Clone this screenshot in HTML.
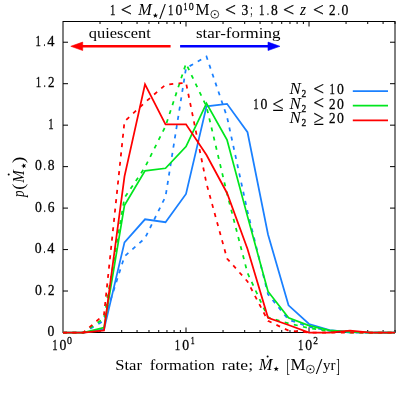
<!DOCTYPE html>
<html><head><meta charset="utf-8"><title>chart</title>
<style>html,body{margin:0;padding:0;background:#fff}svg{display:block}</style></head>
<body>
<svg width="415" height="415" viewBox="0 0 415 415">
<rect width="415" height="415" fill="#fff"/>
<g stroke="#000" stroke-width="1" fill="none">
<rect x="63.00" y="21.50" width="332.00" height="311.00"/>
<path d="M63.00 332.50h5M395.00 332.50h-5"/>
<path d="M63.00 291.03h5M395.00 291.03h-5"/>
<path d="M63.00 249.57h5M395.00 249.57h-5"/>
<path d="M63.00 208.10h5M395.00 208.10h-5"/>
<path d="M63.00 166.63h5M395.00 166.63h-5"/>
<path d="M63.00 125.17h5M395.00 125.17h-5"/>
<path d="M63.00 83.70h5M395.00 83.70h-5"/>
<path d="M63.00 42.23h5M395.00 42.23h-5"/>
<path d="M100.03 332.50v-2.5 M100.03 21.50v2.5"/>
<path d="M121.69 332.50v-2.5 M121.69 21.50v2.5"/>
<path d="M137.06 332.50v-2.5 M137.06 21.50v2.5"/>
<path d="M148.98 332.50v-2.5 M148.98 21.50v2.5"/>
<path d="M158.72 332.50v-2.5 M158.72 21.50v2.5"/>
<path d="M166.96 332.50v-2.5 M166.96 21.50v2.5"/>
<path d="M174.09 332.50v-2.5 M174.09 21.50v2.5"/>
<path d="M180.38 332.50v-2.5 M180.38 21.50v2.5"/>
<path d="M186.01 332.50v-5.0 M186.01 21.50v5.0"/>
<path d="M223.04 332.50v-2.5 M223.04 21.50v2.5"/>
<path d="M244.70 332.50v-2.5 M244.70 21.50v2.5"/>
<path d="M260.07 332.50v-2.5 M260.07 21.50v2.5"/>
<path d="M271.99 332.50v-2.5 M271.99 21.50v2.5"/>
<path d="M281.73 332.50v-2.5 M281.73 21.50v2.5"/>
<path d="M289.97 332.50v-2.5 M289.97 21.50v2.5"/>
<path d="M297.10 332.50v-2.5 M297.10 21.50v2.5"/>
<path d="M303.39 332.50v-2.5 M303.39 21.50v2.5"/>
<path d="M309.02 332.50v-5.0 M309.02 21.50v5.0"/>
<path d="M346.05 332.50v-2.5 M346.05 21.50v2.5"/>
<path d="M367.71 332.50v-2.5 M367.71 21.50v2.5"/>
<path d="M383.08 332.50v-2.5 M383.08 21.50v2.5"/>
<path d="M395.00 332.50v-2.5 M395.00 21.50v2.5"/>
</g>
<g>
<polyline points="63.00,332.50 83.50,332.50 104.00,329.39 124.50,242.31 145.01,219.30 165.51,222.20 186.01,194.00 206.51,106.30 227.01,103.81 247.51,132.22 268.02,234.43 288.52,305.34 309.02,324.00 329.52,330.01 350.02,332.09 370.52,332.50 391.03,332.50 395.00,332.50" fill="none" stroke="#1a80ff" stroke-width="1.75" stroke-linejoin="miter"/>
<polyline points="63.00,332.50 83.50,332.50 104.00,320.68 124.50,256.41 145.01,238.16 165.51,196.70 186.01,68.15 206.51,56.54 227.01,116.87 247.51,211.42 268.02,294.35 288.52,319.65 309.02,326.90 329.52,330.84 350.02,332.50 370.52,332.50 391.03,332.50 395.00,332.50" fill="none" stroke="#1a80ff" stroke-width="1.75" stroke-linejoin="miter" stroke-dasharray="4 5.4"/>
<polyline points="63.00,332.50 83.50,332.50 104.00,327.52 124.50,205.20 145.01,170.78 165.51,168.29 186.01,146.52 206.51,103.40 227.01,139.89 247.51,216.39 268.02,291.45 288.52,317.78 309.02,325.66 329.52,330.43 350.02,331.88 370.52,332.50 391.03,332.50 395.00,332.50" fill="none" stroke="#00e61e" stroke-width="1.75" stroke-linejoin="miter"/>
<polyline points="63.00,332.50 83.50,332.50 104.00,318.40 124.50,197.73 145.01,167.26 165.51,126.20 186.01,63.59 206.51,106.51 227.01,193.59 247.51,273.00 268.02,317.36 288.52,323.38 309.02,328.15 329.52,331.26 350.02,332.50 370.52,332.50 391.03,332.50 395.00,332.50" fill="none" stroke="#00e61e" stroke-width="1.75" stroke-linejoin="miter" stroke-dasharray="4 5.4"/>
<polyline points="63.00,332.50 83.50,332.50 104.00,330.43 124.50,176.38 145.01,84.32 165.51,124.34 186.01,124.34 206.51,155.02 227.01,192.96 247.51,248.94 268.02,317.78 288.52,325.04 309.02,332.50 329.52,332.50 350.02,330.63 370.52,332.50 391.03,332.50 395.00,332.50" fill="none" stroke="#ff0000" stroke-width="1.75" stroke-linejoin="miter"/>
<polyline points="63.00,332.50 83.50,332.50 104.00,314.67 124.50,121.43 145.01,102.36 165.51,84.74 186.01,82.66 206.51,183.63 227.01,258.48 247.51,281.50 268.02,320.89 288.52,330.63 309.02,332.50 329.52,332.50 350.02,332.50 370.52,332.50 391.03,332.50 395.00,332.50" fill="none" stroke="#ff0000" stroke-width="1.75" stroke-linejoin="miter" stroke-dasharray="4 5.4"/>
</g>
<path d="M170.6 46.3H80" stroke="#ff0000" stroke-width="2.6" fill="none"/>
<path d="M70.8 46.3l11.9 -4.2v8.4z" fill="#ff0000" stroke="#ff0000" stroke-width="0.6" stroke-linejoin="round"/>
<path d="M180.1 46.3H270" stroke="#0000ff" stroke-width="2.6" fill="none"/>
<path d="M279.9 46.3l-11.9 -4.2v8.4z" fill="#0000ff" stroke="#0000ff" stroke-width="0.6" stroke-linejoin="round"/>
<path d="M352.8 91.0H388" stroke="#1a80ff" stroke-width="1.75" fill="none"/>
<path d="M352.8 105.7H388" stroke="#00e61e" stroke-width="1.75" fill="none"/>
<path d="M352.8 120.4H388" stroke="#ff0000" stroke-width="1.75" fill="none"/>
<g font-family="'Liberation Serif', serif" font-size="16.0" fill="#000" opacity="0.999">
<text transform="translate(47.54,336.20) scale(0.8578,0.975)" stroke="#000" stroke-width="0.30">0</text>
<text transform="translate(35.04,294.73) scale(0.8578,0.975)" stroke="#000" stroke-width="0.30">0</text>
<text transform="translate(43.85,294.73) scale(0.4809,0.975)" stroke="#000" stroke-width="0.30">.</text>
<text transform="translate(47.90,294.73) scale(0.8130,0.975)" stroke="#000" stroke-width="0.30">2</text>
<text transform="translate(34.68,253.27) scale(0.8578,0.975)" stroke="#000" stroke-width="0.30">0</text>
<text transform="translate(43.50,253.27) scale(0.4809,0.975)" stroke="#000" stroke-width="0.30">.</text>
<text transform="translate(47.18,253.27) scale(0.9026,0.975)" stroke="#000" stroke-width="0.30">4</text>
<text transform="translate(34.91,211.80) scale(0.8578,0.975)" stroke="#000" stroke-width="0.30">0</text>
<text transform="translate(43.72,211.80) scale(0.4809,0.975)" stroke="#000" stroke-width="0.30">.</text>
<text transform="translate(47.64,211.80) scale(0.8456,0.975)" stroke="#000" stroke-width="0.30">6</text>
<text transform="translate(34.91,170.33) scale(0.8578,0.975)" stroke="#000" stroke-width="0.30">0</text>
<text transform="translate(43.72,170.33) scale(0.4809,0.975)" stroke="#000" stroke-width="0.30">.</text>
<text transform="translate(47.64,170.33) scale(0.8456,0.975)" stroke="#000" stroke-width="0.30">8</text>
<text transform="translate(48.32,128.87) scale(0.6724,0.975)" stroke="#000" stroke-width="0.30">1</text>
<text transform="translate(35.85,87.40) scale(0.6724,0.975)" stroke="#000" stroke-width="0.30">1</text>
<text transform="translate(43.85,87.40) scale(0.4809,0.975)" stroke="#000" stroke-width="0.30">.</text>
<text transform="translate(47.90,87.40) scale(0.8130,0.975)" stroke="#000" stroke-width="0.30">2</text>
<text transform="translate(35.49,45.93) scale(0.6724,0.975)" stroke="#000" stroke-width="0.30">1</text>
<text transform="translate(43.50,45.93) scale(0.4809,0.975)" stroke="#000" stroke-width="0.30">.</text>
<text transform="translate(47.18,45.93) scale(0.9026,0.975)" stroke="#000" stroke-width="0.30">4</text>
<text transform="translate(52.20,350.00) scale(0.6724,0.975)" stroke="#000" stroke-width="0.30">1</text>
<text transform="translate(59.54,350.00) scale(0.8578,0.975)" stroke="#000" stroke-width="0.30">0</text>
<text transform="translate(67.00,344.20) scale(0.8578,0.975)" font-size="11.58" stroke="#000" stroke-width="0.30">0</text>
<text transform="translate(174.80,350.00) scale(0.6724,0.975)" stroke="#000" stroke-width="0.30">1</text>
<text transform="translate(182.14,350.00) scale(0.8578,0.975)" stroke="#000" stroke-width="0.30">0</text>
<text transform="translate(190.70,344.20) scale(0.6724,0.975)" font-size="11.58" stroke="#000" stroke-width="0.30">1</text>
<text transform="translate(298.00,350.00) scale(0.6724,0.975)" stroke="#000" stroke-width="0.30">1</text>
<text transform="translate(305.33,350.00) scale(0.8578,0.975)" stroke="#000" stroke-width="0.30">0</text>
<text transform="translate(313.20,344.20) scale(0.8130,0.975)" font-size="11.58" stroke="#000" stroke-width="0.30">2</text>
<text transform="translate(88.80,38.00) scale(1.0265,0.900)">quiescent</text>
<text transform="translate(196.00,38.00) scale(1.0605,0.900)">star-forming</text>
<text transform="translate(289.57,93.90) scale(1.0603,1.000)" font-style="italic">N</text>
<text transform="translate(301.50,96.80) scale(0.8130,0.975)" font-size="11.58" stroke="#000" stroke-width="0.30">2</text>
<text transform="translate(313.30,94.50) scale(1.1947,1.1196)" stroke="#000" stroke-width="0.20">&lt;</text>
<text transform="translate(329.60,93.90) scale(0.6724,0.975)" stroke="#000" stroke-width="0.30">1</text>
<text transform="translate(336.94,93.90) scale(0.8578,0.975)" stroke="#000" stroke-width="0.30">0</text>
<text transform="translate(289.57,108.60) scale(1.0603,1.000)" font-style="italic">N</text>
<text transform="translate(301.50,111.50) scale(0.8130,0.975)" font-size="11.58" stroke="#000" stroke-width="0.30">2</text>
<text transform="translate(313.30,109.20) scale(1.1947,1.1196)" stroke="#000" stroke-width="0.20">&lt;</text>
<text transform="translate(328.97,108.60) scale(0.8130,0.975)" stroke="#000" stroke-width="0.30">2</text>
<text transform="translate(336.94,108.60) scale(0.8578,0.975)" stroke="#000" stroke-width="0.30">0</text>
<text transform="translate(289.57,123.10) scale(1.0603,1.000)" font-style="italic">N</text>
<text transform="translate(301.50,126.00) scale(0.8130,0.975)" font-size="11.58" stroke="#000" stroke-width="0.30">2</text>
<text transform="translate(313.40,125.30) scale(1.2045,1.3261)" stroke="#000" stroke-width="0.10">≥</text>
<text transform="translate(328.97,123.10) scale(0.8130,0.975)" stroke="#000" stroke-width="0.30">2</text>
<text transform="translate(336.94,123.10) scale(0.8578,0.975)" stroke="#000" stroke-width="0.30">0</text>
<text transform="translate(253.20,108.60) scale(0.6724,0.975)" stroke="#000" stroke-width="0.30">1</text>
<text transform="translate(260.53,108.60) scale(0.8578,0.975)" stroke="#000" stroke-width="0.30">0</text>
<text transform="translate(272.30,110.80) scale(1.2955,1.3261)" stroke="#000" stroke-width="0.10">≤</text>
<text transform="translate(109.90,15.30) scale(0.6724,0.975)" stroke="#000" stroke-width="0.30">1</text>
<text transform="translate(120.70,15.90) scale(1.2168,1.1196)" stroke="#000" stroke-width="0.20">&lt;</text>
<text transform="translate(138.24,15.30) scale(1.0126,1.000)" font-style="italic">M</text>
<polygon points="155.40,12.80 156.06,14.69 158.06,14.73 156.47,15.95 157.05,17.87 155.40,16.72 153.75,17.87 154.33,15.95 152.74,14.73 154.74,14.69" fill="#000"/>
<text transform="translate(159.20,19.26) scale(1.4732,1.4832)">/</text>
<text transform="translate(168.10,15.30) scale(0.6724,0.975)" stroke="#000" stroke-width="0.30">1</text>
<text transform="translate(175.44,15.30) scale(0.8578,0.975)" stroke="#000" stroke-width="0.30">0</text>
<text transform="translate(183.50,9.70) scale(0.6724,0.975)" font-size="11.58" stroke="#000" stroke-width="0.30">1</text>
<text transform="translate(188.81,9.70) scale(0.8578,0.975)" font-size="11.58" stroke="#000" stroke-width="0.30">0</text>
<text transform="translate(195.60,15.30) scale(0.9831,1.000)">M</text>
<circle cx="214.80" cy="14.30" r="3.90" fill="none" stroke="#000" stroke-width="0.75"/>
<circle cx="214.80" cy="14.30" r="0.9" fill="#000"/>
<text transform="translate(225.00,15.90) scale(1.2168,1.1196)" stroke="#000" stroke-width="0.20">&lt;</text>
<text transform="translate(241.60,15.30) scale(0.8456,0.975)" stroke="#000" stroke-width="0.30">3</text>
<text transform="translate(250.30,15.30) scale(0.5134,1.000)">;</text>
<text transform="translate(259.10,15.30) scale(0.6724,0.975)" stroke="#000" stroke-width="0.30">1</text>
<text transform="translate(267.10,15.30) scale(0.4809,0.975)" stroke="#000" stroke-width="0.30">.</text>
<text transform="translate(271.02,15.30) scale(0.8456,0.975)" stroke="#000" stroke-width="0.30">8</text>
<text transform="translate(282.90,15.90) scale(1.2389,1.1196)" stroke="#000" stroke-width="0.20">&lt;</text>
<text transform="translate(300.03,15.30) scale(0.9722,1.000)" font-style="italic">z</text>
<text transform="translate(313.00,15.90) scale(1.1947,1.1196)" stroke="#000" stroke-width="0.20">&lt;</text>
<text transform="translate(329.00,15.30) scale(0.8130,0.975)" stroke="#000" stroke-width="0.30">2</text>
<text transform="translate(337.64,15.30) scale(0.4809,0.975)" stroke="#000" stroke-width="0.30">.</text>
<text transform="translate(341.50,15.30) scale(0.8578,0.975)" stroke="#000" stroke-width="0.30">0</text>
<text transform="translate(115.30,370.00) scale(1.0365,0.950)">Star</text>
<text transform="translate(149.80,370.00) scale(1.0298,0.900)">formation</text>
<text transform="translate(221.80,370.00) scale(1.1021,0.900)">rate;</text>
<text transform="translate(258.94,370.00) scale(1.0056,1.000)" font-style="italic">M</text>
<circle cx="267.6" cy="356.4" r="1.0" fill="#000"/>
<polygon points="276.20,366.20 276.86,368.09 278.86,368.13 277.27,369.35 277.85,371.27 276.20,370.12 274.55,371.27 275.13,369.35 273.54,368.13 275.54,368.09" fill="#000"/>
<text transform="translate(286.40,371.61) scale(0.6343,1.1973)">[</text>
<text transform="translate(290.50,370.00) scale(1.0674,1.000)">M</text>
<circle cx="310.40" cy="369.20" r="3.90" fill="none" stroke="#000" stroke-width="0.75"/>
<circle cx="310.40" cy="369.20" r="0.9" fill="#000"/>
<text transform="translate(315.80,373.96) scale(1.4955,1.4832)">/</text>
<text transform="translate(323.00,370.00) scale(0.9356,0.900)">yr</text>
<text transform="translate(336.30,371.61) scale(0.6716,1.1973)">]</text>
<g transform="translate(23.6,197.7) rotate(-90)">
<text transform="translate(0.78,0.00) scale(0.8147,1.000)" font-style="italic">p</text>
<text transform="translate(7.90,0.44) scale(1.1194,1.0920)">(</text>
<text transform="translate(14.83,0.00) scale(0.9427,1.000)" font-style="italic">M</text>
<circle cx="23.2" cy="-14.9" r="1.0" fill="#000"/>
<polygon points="31.80,-2.60 32.46,-0.71 34.46,-0.67 32.87,0.55 33.45,2.47 31.80,1.32 30.15,2.47 30.73,0.55 29.14,-0.67 31.14,-0.71" fill="#000"/>
<text transform="translate(34.40,0.44) scale(1.2500,1.0920)">)</text>
</g>
</g>
</svg>
</body></html>
